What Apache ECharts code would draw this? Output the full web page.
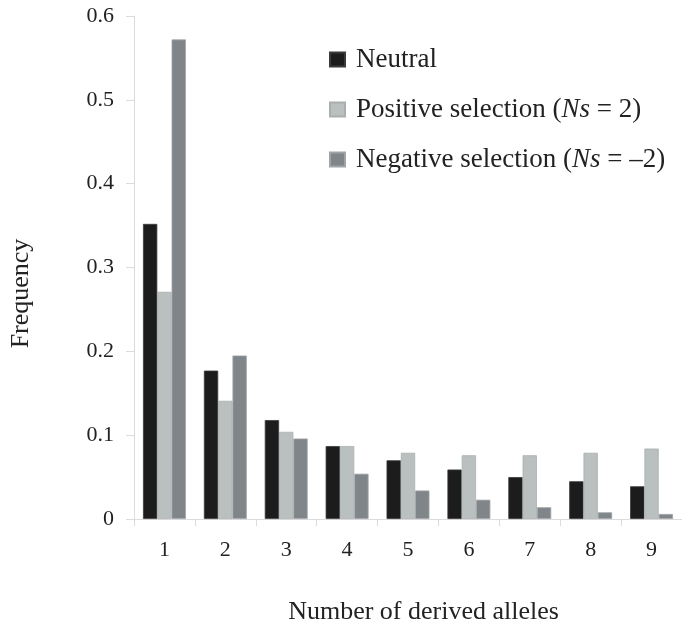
<!DOCTYPE html>
<html>
<head>
<meta charset="utf-8">
<script src="https://cdn.jsdelivr.net/npm/echarts@6/dist/echarts.min.js"></script>
<style>html,body{margin:0;padding:0;background:#fff}#c{width:682px;height:630px}</style>
</head>
<body>
<div id="c"></div>
<script>
const categories = ['1','2','3','4','5','6','7','8','9'];
const neutral  = [0.352, 0.177, 0.118, 0.087, 0.070, 0.059, 0.050, 0.045, 0.039];
const positive = [0.271, 0.141, 0.104, 0.087, 0.079, 0.076, 0.076, 0.079, 0.084];
const negative = [0.572, 0.195, 0.096, 0.054, 0.034, 0.023, 0.014, 0.008, 0.006];
const seriesNames = ['Neutral', 'Positive selection (Ns = 2)', 'Negative selection (Ns = \u20132)'];
const legendRich = {
  'Neutral': '{n|Neutral}',
  'Positive selection (Ns = 2)': '{n|Positive selection (}{i|Ns}{n| = 2)}',
  'Negative selection (Ns = \u20132)': '{n|Negative selection (}{i|Ns}{n| = \u20132)}'
};
const serif = '"Liberation Serif", "DejaVu Serif", serif';
const chart = echarts.init(document.getElementById('c'));
const axisGray = '#dcdcdc';
function bar(name, data, color, border) {
  return {
    name: name, type: 'bar', data: data,
    barWidth: 14.3, barGap: '0%',
    itemStyle: { color: color, borderColor: border, borderWidth: 0.8 },
    emphasis: { disabled: true }
  };
}
chart.setOption({
  animation: false,
  backgroundColor: '#fff',
  textStyle: { fontFamily: serif },
  grid: { left: 132, top: 16, bottom: 100, right: -8, containLabel: false },
  legend: {
    orient: 'vertical', left: 324, top: 41,
    itemWidth: 15, itemHeight: 14, itemGap: 23,
    icon: 'rect',
    selectedMode: false,
    data: seriesNames,
    formatter: function (n) { return legendRich[n]; },
    textStyle: {
      fontFamily: serif, color: '#222', padding: [0, 0, 0, 6],
      rich: {
        n: { fontFamily: serif, fontSize: 27, color: '#222' },
        i: { fontFamily: serif, fontSize: 27, color: '#222', fontStyle: 'italic' }
      }
    }
  },
  xAxis: {
    type: 'category', data: categories,
    name: 'Number of derived alleles', nameLocation: 'middle', nameGap: 80,
    nameTextStyle: { fontFamily: serif, fontSize: 26, color: '#222', padding: [0, 0, 0, 31] },
    axisLine: { lineStyle: { color: axisGray, width: 1 } },
    axisTick: { show: true, length: 7, lineStyle: { color: axisGray } },
    axisLabel: { fontFamily: serif, fontSize: 22, color: '#222', margin: 20 }
  },
  yAxis: {
    type: 'value', min: 0, max: 0.6, interval: 0.1,
    name: 'Frequency', nameLocation: 'middle', nameGap: 100, nameRotate: 90,
    nameTextStyle: { fontFamily: serif, fontSize: 26, color: '#222', padding: [0, 52, 0, 0] },
    axisLine: { show: true, lineStyle: { color: axisGray, width: 1 } },
    axisTick: { show: true, length: 8, lineStyle: { color: axisGray } },
    splitLine: { show: false },
    axisLabel: { fontFamily: serif, fontSize: 22, color: '#222', margin: 20,
      formatter: function (v) { return v === 0 ? '0' : v.toFixed(1); } }
  },
  series: [
    bar(seriesNames[0], neutral, '#1c1c1c', '#3a3a3a'),
    bar(seriesNames[1], positive, '#babfbf', '#a9aeae'),
    bar(seriesNames[2], negative, '#80858a', '#a0a4a8')
  ]
});
</script>
</body>
</html>
